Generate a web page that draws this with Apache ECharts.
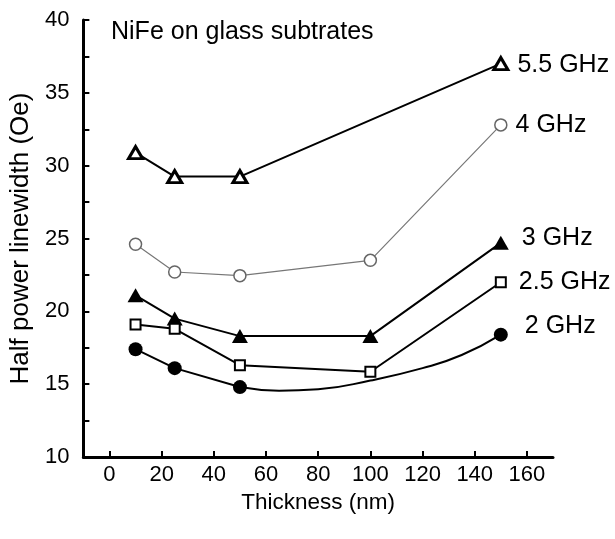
<!DOCTYPE html>
<html>
<head>
<meta charset="utf-8">
<script src="https://cdn.jsdelivr.net/npm/echarts@6/dist/echarts.min.js"></script>
<style>
  html, body { margin: 0; padding: 0; background: #fff; }
  #chart { width: 615px; height: 539px; }
</style>
</head>
<body>
<div id="chart"></div>
<script>
// Film thickness (nm) for each measurement
const thickness = [10, 25, 50, 100, 150];

// Half power linewidth (Oe) per frequency; null = no measurement
const ghz55 = [30.9, 29.25, 29.25, null, 37.0];
const ghz4  = [24.6, 22.7, 22.45, 23.5, 32.8];
const ghz3  = [21.1, 19.5, 18.3, 18.3, 24.7];
const ghz25 = [19.1, 18.8, 16.3, 15.85, 22.0];
const ghz2  = [17.4, 16.1, 14.8, null, 18.4];

// Trend curve drawn through the 2 GHz data beyond 50 nm
const fit2X = [50, 65, 80, 100, 120, 135, 150];
const fit2Y = [14.8, 14.55, 14.65, 15.25, 16.1, 17.0, 18.4];

const xTicks = [0, 20, 40, 60, 80, 100, 120, 140, 160];

const FONT = '"Liberation Sans", Arial, Helvetica, sans-serif';

function pairs(xs, ys) {
  return xs.map((x, i) => [x, ys[i]]);
}

function withEndLabel(xs, ys, text, offset) {
  let last = -1;
  ys.forEach((v, i) => { if (v !== null) last = i; });
  return xs.map((x, i) => {
    const item = { value: [x, ys[i]] };
    if (i === last) {
      item.label = {
        show: true, position: 'right', distance: 8, offset: offset,
        formatter: text, color: '#000', fontSize: 25, fontFamily: FONT
      };
    }
    return item;
  });
}

const chart = echarts.init(document.getElementById('chart'), null, { renderer: 'canvas' });

const blackLine = { color: '#000', width: 2 };

chart.setOption({
  animation: false,
  backgroundColor: '#fff',
  title: {
    text: 'NiFe on glass subtrates',
    left: 106, top: 15,
    textStyle: { fontFamily: FONT, fontSize: 25, fontWeight: 'normal', color: '#000' }
  },
  grid: { left: 83, right: 62, top: 20, bottom: 82, containLabel: false },
  xAxis: {
    type: 'value', min: -10, max: 170,
    name: 'Thickness (nm)', nameLocation: 'middle', nameGap: 32,
    nameTextStyle: { fontFamily: FONT, fontSize: 22.5, color: '#000' },
    axisLine: { onZero: false, lineStyle: { color: '#000', width: 3 } },
    axisTick: { show: true, inside: true, length: 6, customValues: xTicks, lineStyle: { color: '#000', width: 2 } },
    axisLabel: { customValues: xTicks, margin: 7, fontFamily: FONT, fontSize: 22, color: '#000' },
    splitLine: { show: false }
  },
  yAxis: {
    type: 'value', min: 10, max: 40, interval: 2.5,
    name: 'Half power linewidth (Oe)', nameLocation: 'middle', nameGap: 43,
    nameTextStyle: { fontFamily: FONT, fontSize: 26, color: '#000' },
    axisLine: { onZero: false, lineStyle: { color: '#000', width: 3 } },
    axisTick: { show: true, inside: true, length: 6, lineStyle: { color: '#000', width: 2 } },
    axisLabel: {
      margin: 14, fontFamily: FONT, fontSize: 22, color: '#000',
      formatter: v => (v % 5 === 0 ? String(v) : '')
    },
    splitLine: { show: false }
  },
  series: [
    {
      name: '5.5 GHz', type: 'line', connectNulls: true,
      data: withEndLabel(thickness, ghz55, '5.5 GHz', [0, 1]),
      symbol: 'triangle', symbolSize: [14, 12],
      itemStyle: { color: '#fff', borderColor: '#000', borderWidth: 3 },
      lineStyle: blackLine, z: 3
    },
    {
      name: '4 GHz', type: 'line',
      data: withEndLabel(thickness, ghz4, '4 GHz', [0, 0]),
      symbol: 'circle', symbolSize: 12,
      itemStyle: { color: '#fff', borderColor: '#666', borderWidth: 1.5 },
      lineStyle: { color: '#777', width: 1.2 }, z: 3
    },
    {
      name: '3 GHz', type: 'line',
      data: withEndLabel(thickness, ghz3, '3 GHz', [5, -5]),
      symbol: 'triangle', symbolSize: [16, 14],
      itemStyle: { color: '#000', borderColor: '#000', borderWidth: 0 },
      lineStyle: blackLine, z: 4
    },
    {
      name: '2.5 GHz', type: 'line',
      data: withEndLabel(thickness, ghz25, '2.5 GHz', [4, 0]),
      symbol: 'rect', symbolSize: 10,
      itemStyle: { color: '#fff', borderColor: '#000', borderWidth: 2 },
      lineStyle: blackLine, z: 5
    },
    {
      name: '2 GHz', type: 'line', connectNulls: false,
      data: withEndLabel(thickness, ghz2, '2 GHz', [9, -9]),
      symbol: 'circle', symbolSize: 14,
      itemStyle: { color: '#000', borderColor: '#000', borderWidth: 0 },
      lineStyle: blackLine, z: 5
    },
    {
      name: '2 GHz trend', type: 'line', smooth: true,
      data: pairs(fit2X, fit2Y),
      showSymbol: false, symbol: 'none',
      lineStyle: blackLine, z: 2
    }
  ]
});
</script>
</body>
</html>
